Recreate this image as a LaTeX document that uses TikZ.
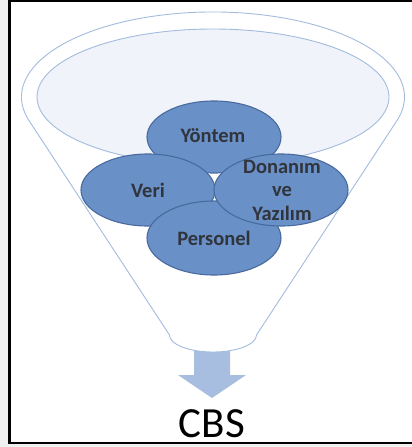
\documentclass[tikz,border=0pt]{standalone}
\definecolor{cbsblue}{RGB}{106, 145, 199}
\definecolor{cbsedge}{RGB}{72, 106, 158}
\definecolor{rimblue}{RGB}{163, 188, 222}
\definecolor{rimfill}{RGB}{240, 243, 249}
\definecolor{arrowblue}{RGB}{168, 190, 224}
\definecolor{txtgray}{RGB}{48, 52, 60}
\definecolor{pagegray}{RGB}{240, 240, 240}
\usepackage{fontspec}
\setmainfont{Carlito}
\usepackage{tikz}
\usetikzlibrary{shapes.geometric}

\begin{document}
\begin{tikzpicture}[x=1pt, y=-1pt,
  blob/.style={ellipse, draw=cbsedge, line width=1.1pt, fill=cbsblue, minimum width=134pt, minimum height=72pt, inner sep=0pt},
  blobtext/.style={text=txtgray, font=\fontsize{20.5}{23.5}\selectfont\bfseries, align=center, inner sep=0pt},
  rim/.style={draw=rimblue, line width=0.9pt}]
\useasboundingbox (0,0) rectangle (412,447);
\fill[pagegray] (0,0) rectangle (412,447);
\draw[line width=2.5pt, fill=white] (9.5,1) rectangle (420,443);

% funnel
\coordinate (rimL) at (29.1,120.7);
\coordinate (rimR) at (396.9,120.7);
\coordinate (neckL) at (169.5,335);
\coordinate (neckR) at (256.5,335);
\fill[arrowblue] (194,345) -- (230,345) -- (230,375) -- (246,375) -- (212,398) -- (178,375) -- (194,375) -- cycle;
\filldraw[rim, fill=white] (rimL) arc[start angle=163.8, end angle=376.2, x radius=191.5, y radius=85]
  -- (neckR) arc[start angle=0, end angle=180, x radius=43.5, y radius=17] -- cycle;
\filldraw[rim, fill=rimfill] (213,97) ellipse[x radius=176, y radius=68];

% parts
\node[blob] (yontem) at (214,137) {};
\node[blobtext] (yontem-t) at (213,136) {Yöntem};
\node[blob] (veri) at (148,190) {};
\node[blobtext] (veri-t) at (veri) {Veri};
\node[blob, minimum height=74pt] (personel) at (214,238) {};
\node[blobtext] (personel-t) at (personel) {Personel};
\node[blob] (donanim) at (281,190) {};
\node[blobtext] (donanim-t) at (282,190) {Donanım\\ve\\Yazılım};

\node[anchor=base, font=\fontsize{43}{43}\selectfont, inner sep=0pt] (cbs) at (212,437) {CBS};
\end{tikzpicture}
\end{document}
